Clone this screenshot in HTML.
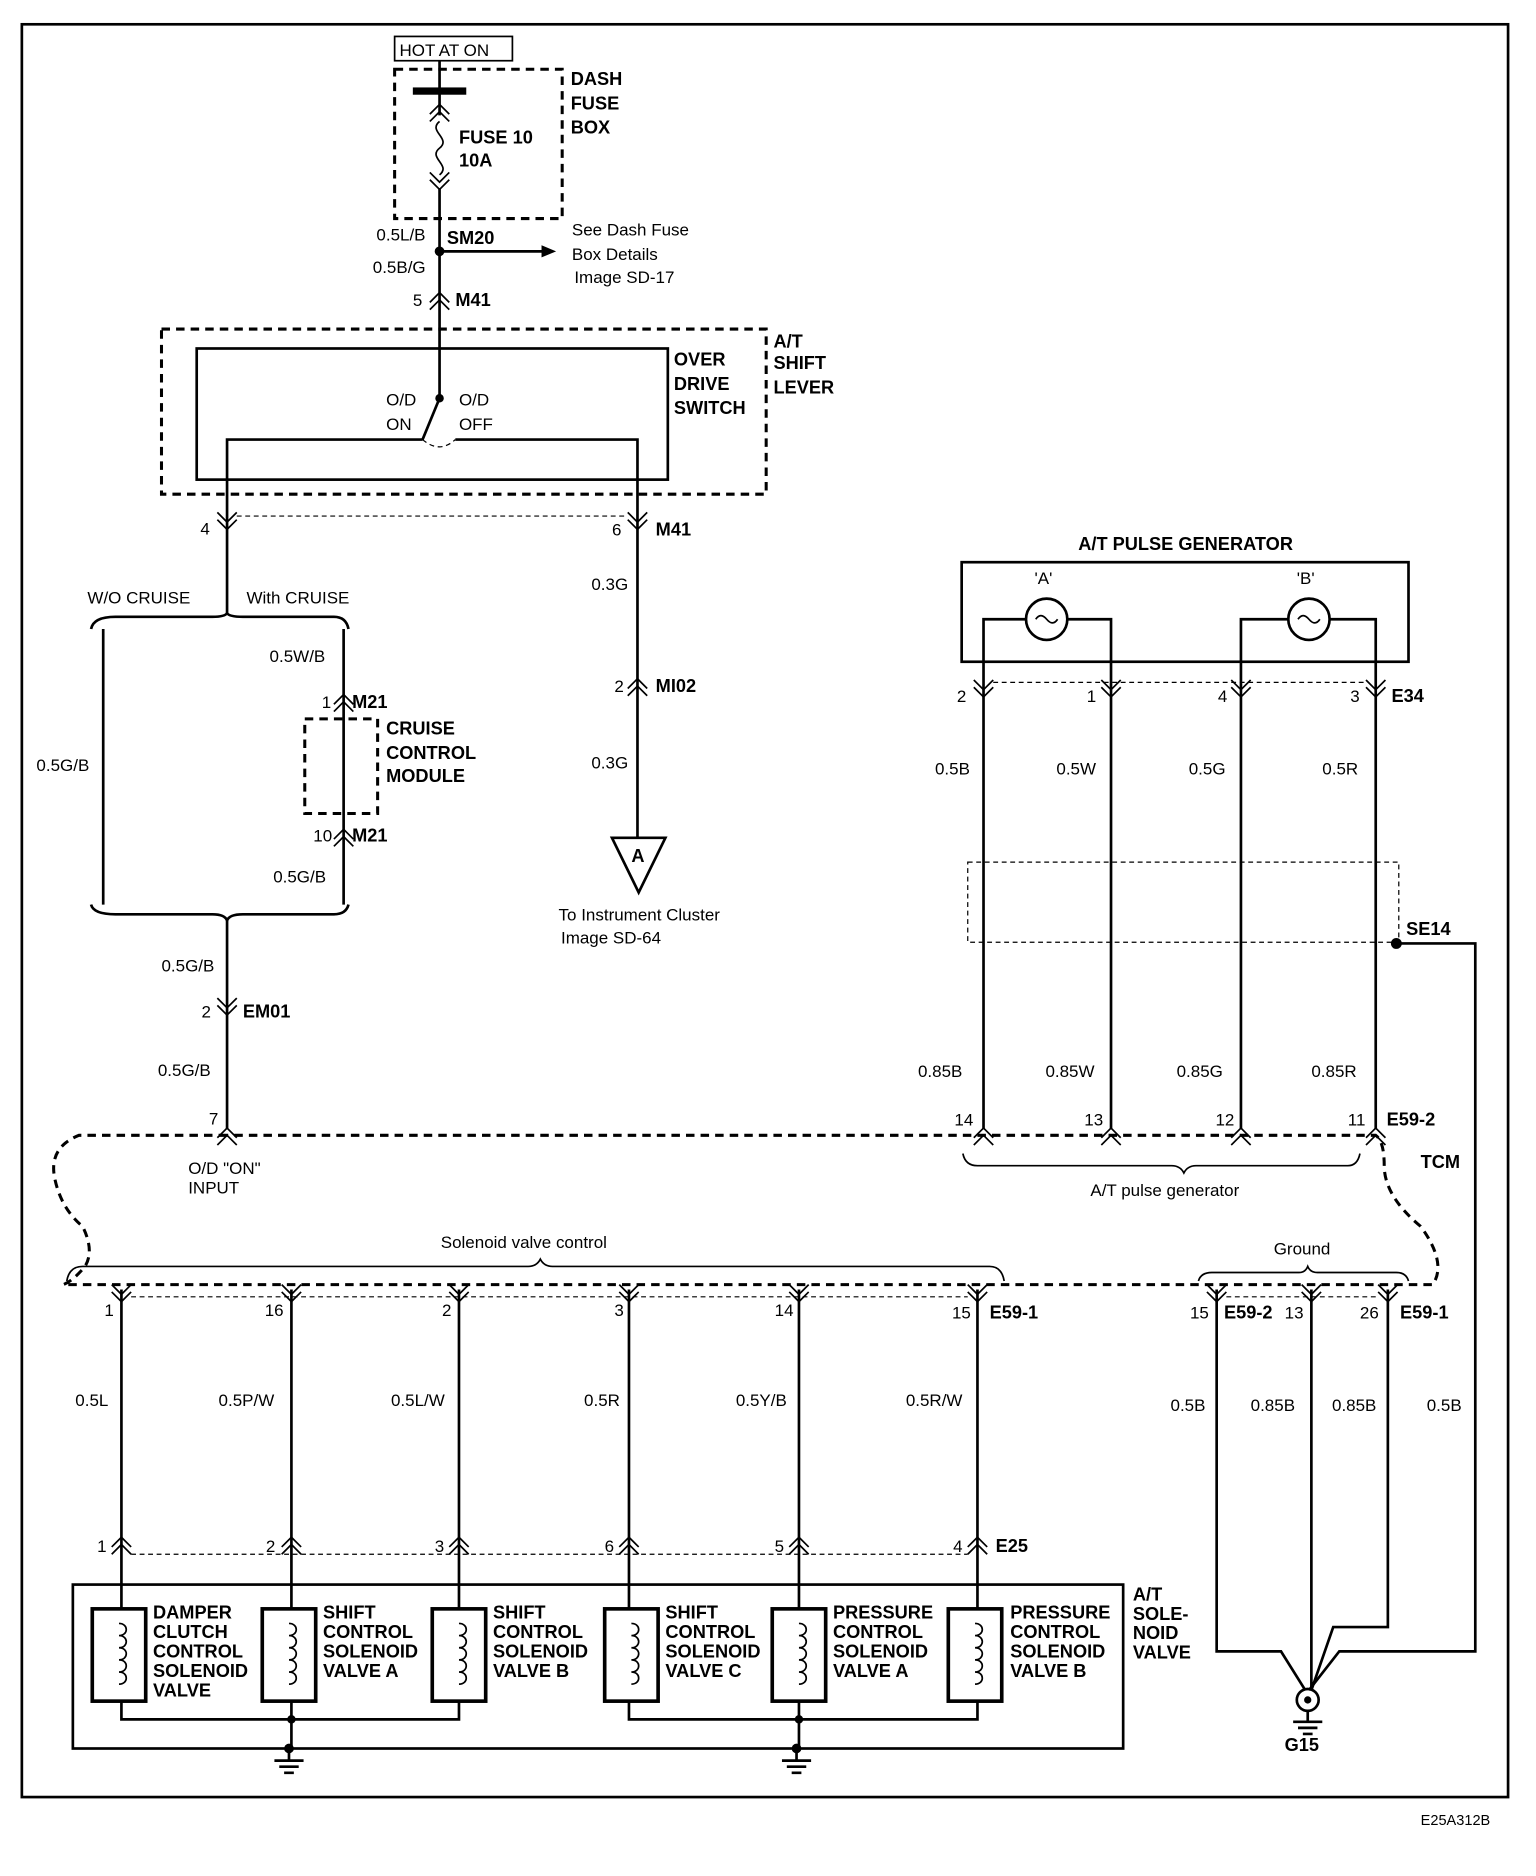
<!DOCTYPE html>
<html><head><style>
html,body{margin:0;padding:0;background:#fff}
svg{display:block}
text{font-family:"Liberation Sans",sans-serif;font-size:14px;fill:#000}
.b{font-weight:bold;font-size:15px}
.w{stroke:#000;stroke-width:2.2;fill:none}
.d{stroke:#000;stroke-width:2.5;fill:none;stroke-dasharray:7 5}
.t{stroke:#000;stroke-width:1;fill:none;stroke-dasharray:4 3}
.s{stroke:#000;stroke-width:1.4;fill:none}
</style></head><body>
<svg width="1536" height="1876" viewBox="0 0 1265 1545" xmlns="http://www.w3.org/2000/svg">
<defs>
<g id="cd"><path class="s" d="M-8,-8 L0,0 L8,-8 M-8,-2 L0,6 L8,-2"/></g>
<g id="cu"><path class="s" d="M-8,8 L0,0 L8,8 M-8,2 L0,-6 L8,2"/></g>
<g id="coil"><rect x="-22" y="0" width="44" height="76" stroke="#000" stroke-width="3" fill="none"/><path class="s" d="M0,12 c8,0 8,10 0,10 c8,0 8,10 0,10 c8,0 8,10 0,10 c8,0 8,10 0,10 c8,0 8,10 0,10"/></g>
<g id="gnd"><circle r="4"/><path class="w" d="M0,0 V10 M-12,10 H12 M-8,15 H8 M-4,20 H4"/></g>
</defs>
<rect x="18" y="20" width="1224" height="1460" class="w" stroke-width="1.5"/>
<!-- top -->
<rect x="325" y="30" width="97" height="20" class="s"/><text x="329" y="46">HOT AT ON</text>
<rect x="325" y="57" width="138" height="123" class="d"/>
<text class="b" x="470" y="70">DASH</text><text class="b" x="470" y="90">FUSE</text><text class="b" x="470" y="110">BOX</text>
<path class="w" d="M362,50 V95 M362,155 V325"/>
<rect x="340" y="72" width="44" height="6"/>
<use href="#cu" x="362" y="92"/>
<path class="s" d="M362,100 c-10,8 10,14 0,22 c-10,8 10,14 0,22"/>
<use href="#cd" x="362" y="150"/>
<text class="b" x="378" y="118">FUSE 10</text><text class="b" x="378" y="137">10A</text>
<circle cx="362" cy="207" r="4"/>
<path class="w" d="M362,207 H448"/><path d="M458,207 L446,202 L446,212Z"/>
<text x="310" y="198">0.5L/B</text><text class="b" x="368" y="201">SM20</text>
<text x="307" y="225">0.5B/G</text>
<text x="471" y="194">See Dash Fuse</text><text x="471" y="214">Box Details</text><text x="473" y="233">Image   SD-17</text>
<use href="#cu" x="362" y="247"/><text x="340" y="252">5</text><text class="b" x="375" y="252">M41</text>
<rect x="133" y="271" width="498" height="136" class="d"/>
<rect x="162" y="287" width="388" height="108" class="w"/>
<text class="b" x="555" y="301">OVER</text><text class="b" x="555" y="321">DRIVE</text><text class="b" x="555" y="341">SWITCH</text>
<text class="b" x="637" y="286">A/T</text><text class="b" x="637" y="304">SHIFT</text><text class="b" x="637" y="324">LEVER</text>
<circle cx="362" cy="328" r="3.5"/>
<path class="w" d="M362,328 L348,362"/>
<path class="t" d="M348,362 Q362,374 375,362"/>
<text x="318" y="334">O/D</text><text x="318" y="354">ON</text><text x="378" y="334">O/D</text><text x="378" y="354">OFF</text>
<path class="w" d="M348,362 H187 V505 M375,362 H525 V690"/>
<use href="#cd" x="187" y="430"/><use href="#cd" x="525" y="430"/>
<path class="t" d="M195,425 H517"/>
<text x="165" y="440">4</text><text x="504" y="441">6</text><text class="b" x="540" y="441">M41</text>
<text x="72" y="497">W/O CRUISE</text><text x="203" y="497">With CRUISE</text>
<path class="w" d="M75,518 Q77,508 95,508 H175 Q185,508 187,505 Q189,508 200,508 H275 Q285,508 287,518"/>
<path class="w" d="M85,518 V745 M283,518 V745"/>
<text x="30" y="635">0.5G/B</text>
<text x="222" y="545">0.5W/B</text>
<use href="#cu" x="283" y="578"/><text x="265" y="583">1</text><text class="b" x="290" y="583">M21</text>
<rect x="251" y="592" width="60" height="78" class="d"/>
<text class="b" x="318" y="605">CRUISE</text><text class="b" x="318" y="625">CONTROL</text><text class="b" x="318" y="644">MODULE</text>
<use href="#cu" x="283" y="689"/><text x="258" y="693">10</text><text class="b" x="290" y="693">M21</text>
<text x="225" y="727">0.5G/B</text>
<path class="w" d="M75,745 Q77,753 95,753 H175 Q185,753 187,758 Q189,753 200,753 H275 Q285,753 287,745"/>
<path class="w" d="M187,758 V930"/>
<text x="133" y="800">0.5G/B</text>
<use href="#cd" x="187" y="830"/><text x="166" y="838">2</text><text class="b" x="200" y="838">EM01</text>
<text x="130" y="886">0.5G/B</text><text x="172" y="926">7</text>
<text x="487" y="486">0.3G</text>
<use href="#cu" x="525" y="565"/><text x="506" y="570">2</text><text class="b" x="540" y="570">MI02</text>
<text x="487" y="633">0.3G</text>
<path d="M504,690 H548 L526,735Z" class="w"/><text class="b" x="520" y="710">A</text>
<text x="460" y="758">To Instrument Cluster</text><text x="462" y="777">Image   SD-64</text>
<!-- pulse generator -->
<text class="b" x="888" y="453">A/T PULSE GENERATOR</text>
<rect x="792" y="463" width="368" height="82" class="w"/>
<circle cx="862" cy="510" r="17" class="w"/><circle cx="1078" cy="510" r="17" class="w"/>
<path class="s" d="M853,510 q4,-6 9,0 q5,6 9,0 M1069,510 q4,-6 9,0 q5,6 9,0"/>
<text x="852" y="481">'A'</text><text x="1068" y="481">'B'</text>
<path class="w" d="M845,510 H810 V930 M879,510 H915 V930 M1061,510 H1022 V930 M1095,510 H1133 V930"/>
<path class="t" d="M818,562 H1125"/>
<use href="#cd" x="810" y="568"/><use href="#cd" x="915" y="568"/><use href="#cd" x="1022" y="568"/><use href="#cd" x="1133" y="568"/>
<text x="788" y="578">2</text><text x="895" y="578">1</text><text x="1003" y="578">4</text><text x="1112" y="578">3</text><text class="b" x="1146" y="578">E34</text>
<text x="770" y="638">0.5B</text><text x="870" y="638">0.5W</text><text x="979" y="638">0.5G</text><text x="1089" y="638">0.5R</text>
<rect x="797" y="710" width="355" height="66" class="t" stroke-width="1.2"/>
<circle cx="1150" cy="777" r="4.5"/><text class="b" x="1158" y="770">SE14</text>
<path class="w" d="M1150,777 H1215 V1360 H1103 L1078,1392"/>
<text x="756" y="887">0.85B</text><text x="861" y="887">0.85W</text><text x="969" y="887">0.85G</text><text x="1080" y="887">0.85R</text>
<use href="#cu" x="810" y="935"/><use href="#cu" x="915" y="935"/><use href="#cu" x="1022" y="935"/><use href="#cu" x="1133" y="935"/>
<use href="#cu" x="187" y="935"/>
<text x="786" y="927">14</text><text x="893" y="927">13</text><text x="1001" y="927">12</text><text x="1110" y="927">11</text><text class="b" x="1142" y="927">E59-2</text>
<!-- TCM -->
<path class="d" d="M187,935 H65 Q40,945 45,970 Q50,995 68,1010 Q78,1030 70,1043 Q60,1055 52,1058 H1180 Q1192,1040 1170,1010 Q1140,985 1140,960 Q1140,940 1133,935 H187"/>
<text class="b" x="1170" y="962">TCM</text>
<text x="155" y="967">O/D "ON"</text><text x="155" y="983">INPUT</text>
<path class="s" d="M793,950 Q795,960 805,960 H965 Q972,960 975,966 Q978,960 985,960 H1110 Q1118,960 1120,950"/>
<text x="898" y="985">A/T pulse generator</text>
<path class="s" d="M55,1055 Q57,1043 68,1043 H435 Q442,1043 445,1037 Q448,1043 455,1043 H815 Q825,1043 827,1055"/>
<text x="363" y="1028">Solenoid valve control</text>
<path class="s" d="M987,1055 Q989,1048 998,1048 H1070 Q1075,1048 1077,1043 Q1079,1048 1085,1048 H1150 Q1158,1048 1160,1055"/>
<text x="1049" y="1033">Ground</text>
<!-- solenoid wires -->
<g id="sol">
</g>
<path class="t" d="M108,1068 H797 M1010,1068 H1135"/>
<path class="w" d="M100,1062 V1325 M240,1062 V1325 M378,1062 V1325 M518,1062 V1325 M658,1062 V1325 M805,1062 V1325"/>
<path class="w" d="M1002,1062 V1360 H1055 L1075,1392 M1080,1062 V1392 M1143,1062 V1340 H1098 L1080,1392"/>
<use href="#cd" x="100" y="1066"/><use href="#cd" x="240" y="1066"/><use href="#cd" x="378" y="1066"/><use href="#cd" x="518" y="1066"/><use href="#cd" x="658" y="1066"/><use href="#cd" x="805" y="1066"/>
<use href="#cd" x="1002" y="1066"/><use href="#cd" x="1080" y="1066"/><use href="#cd" x="1143" y="1066"/>
<text x="86" y="1084">1</text><text x="218" y="1084">16</text><text x="364" y="1084">2</text><text x="506" y="1084">3</text><text x="638" y="1084">14</text><text x="784" y="1086">15</text><text class="b" x="815" y="1086">E59-1</text>
<text x="980" y="1086">15</text><text class="b" x="1008" y="1086">E59-2</text><text x="1058" y="1086">13</text><text x="1120" y="1086">26</text><text class="b" x="1153" y="1086">E59-1</text>
<text x="62" y="1158">0.5L</text><text x="180" y="1158">0.5P/W</text><text x="322" y="1158">0.5L/W</text><text x="481" y="1158">0.5R</text><text x="606" y="1158">0.5Y/B</text><text x="746" y="1158">0.5R/W</text>
<text x="964" y="1162">0.5B</text><text x="1030" y="1162">0.85B</text><text x="1097" y="1162">0.85B</text><text x="1175" y="1162">0.5B</text>
<path class="t" d="M108,1280 H797"/>
<use href="#cu" x="100" y="1272"/><use href="#cu" x="240" y="1272"/><use href="#cu" x="378" y="1272"/><use href="#cu" x="518" y="1272"/><use href="#cu" x="658" y="1272"/><use href="#cu" x="805" y="1272"/>
<text x="80" y="1278">1</text><text x="219" y="1278">2</text><text x="358" y="1278">3</text><text x="498" y="1278">6</text><text x="638" y="1278">5</text><text x="785" y="1278">4</text><text class="b" x="820" y="1278">E25</text>
<rect x="60" y="1305" width="865" height="135" class="w" stroke-width="2.5"/>
<use href="#coil" x="98" y="1325"/><use href="#coil" x="238" y="1325"/><use href="#coil" x="378" y="1325"/><use href="#coil" x="520" y="1325"/><use href="#coil" x="658" y="1325"/><use href="#coil" x="803" y="1325"/>
<g class="b" style="font-size:14px">
<text class="b" x="126" y="1333">DAMPER</text><text class="b" x="126" y="1349">CLUTCH</text><text class="b" x="126" y="1365">CONTROL</text><text class="b" x="126" y="1381">SOLENOID</text><text class="b" x="126" y="1397">VALVE</text>
<text class="b" x="266" y="1333">SHIFT</text><text class="b" x="266" y="1349">CONTROL</text><text class="b" x="266" y="1365">SOLENOID</text><text class="b" x="266" y="1381">VALVE A</text>
<text class="b" x="406" y="1333">SHIFT</text><text class="b" x="406" y="1349">CONTROL</text><text class="b" x="406" y="1365">SOLENOID</text><text class="b" x="406" y="1381">VALVE B</text>
<text class="b" x="548" y="1333">SHIFT</text><text class="b" x="548" y="1349">CONTROL</text><text class="b" x="548" y="1365">SOLENOID</text><text class="b" x="548" y="1381">VALVE C</text>
<text class="b" x="686" y="1333">PRESSURE</text><text class="b" x="686" y="1349">CONTROL</text><text class="b" x="686" y="1365">SOLENOID</text><text class="b" x="686" y="1381">VALVE A</text>
<text class="b" x="832" y="1333">PRESSURE</text><text class="b" x="832" y="1349">CONTROL</text><text class="b" x="832" y="1365">SOLENOID</text><text class="b" x="832" y="1381">VALVE B</text>
</g>
<text class="b" x="933" y="1318">A/T</text><text class="b" x="933" y="1334">SOLE-</text><text class="b" x="933" y="1350">NOID</text><text class="b" x="933" y="1366">VALVE</text>
<path class="w" d="M100,1401 V1416 H378 V1401 M240,1401 V1438 M518,1401 V1416 H805 V1401 M658,1401 V1438"/>
<circle cx="240" cy="1416" r="3.5"/><circle cx="658" cy="1416" r="3.5"/>
<use href="#gnd" x="238" y="1440"/><use href="#gnd" x="656" y="1440"/>
<circle cx="1077" cy="1400" r="9" class="w" stroke-width="3"/><circle cx="1077" cy="1400" r="3"/>
<path class="w" d="M1077,1409 V1418 M1065,1418 H1089 M1069,1423 H1085 M1073,1428 H1081"/>
<text class="b" x="1058" y="1442">G15</text>
<text x="1170" y="1503" style="font-size:12px">E25A312B</text>
</svg>
</body></html>
